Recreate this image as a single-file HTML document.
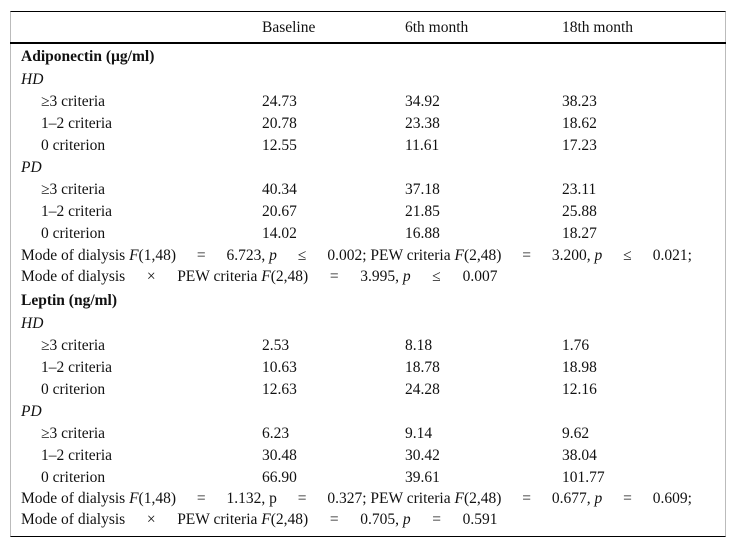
<!DOCTYPE html>
<html><head><meta charset="utf-8"><style>
body{margin:0;width:736px;height:547px;background:#fff;font-family:"Liberation Serif",serif;font-size:15.5px;color:#111;position:relative;overflow:hidden}
.frame{position:absolute;left:10px;top:11px;width:714px;height:524px;border-left:1px solid #bbb;border-right:1px solid #bbb;border-top:1px solid #000;border-bottom:1px solid #000}
.hl{position:absolute;left:10px;width:716px;height:2px;top:42px;background:#000}
.t{position:absolute;white-space:pre;line-height:18px;transform:translateY(-8px)}
b{font-weight:bold}
.s{display:inline-block;width:50.5px;text-align:center}
.w{display:inline-block;width:52px;text-align:center}
</style></head><body>
<div class="frame"></div>
<div class="hl"></div>
<div id="c"></div>
<script>
const rows=[
[27,null,"","Baseline","6th month","18th month"],
[56,"h","Adiponectin (µg/ml)"],
[79,"i","HD"],
[101,"r","≥3 criteria","24.73","34.92","38.23"],
[123,"r","1–2 criteria","20.78","23.38","18.62"],
[145,"r","0 criterion","12.55","11.61","17.23"],
[167,"i","PD"],
[189,"r","≥3 criteria","40.34","37.18","23.11"],
[211,"r","1–2 criteria","20.67","21.85","25.88"],
[233,"r","0 criterion","14.02","16.88","18.27"],
[300,"h","Leptin (ng/ml)"],
[323,"i","HD"],
[345,"r","≥3 criteria","2.53","8.18","1.76"],
[367,"r","1–2 criteria","10.63","18.78","18.98"],
[389,"r","0 criterion","12.63","24.28","12.16"],
[411,"i","PD"],
[433,"r","≥3 criteria","6.23","9.14","9.62"],
[455,"r","1–2 criteria","30.48","30.42","38.04"],
[477,"r","0 criterion","66.90","39.61","101.77"]];
const c=document.getElementById('c');
function add(x,y,html,name){const d=document.createElement('div');d.className='t';d.style.left=x+'px';d.style.top=y+'px';d.innerHTML=html;


c.appendChild(d);}
rows.forEach((r,k)=>{const y=r[0];
if(r[1]==='h')add(21,y,'<b>'+r[2]+'</b>','section-heading');
else if(r[1]==='i')add(21,y,'<i>'+r[2]+'</i>','group-label');
else{ if(r[2])add(r[1]==='r'?41:21,y,r[2],'row-label');
 add(262,y,r[3],'cell-baseline');add(405,y,r[4],'cell-6th-month');add(562,y,r[5],'cell-18th-month');}
});
const S=t=>'<span class="s">'+t+'</span>';
const W=t=>'<span class="w">'+t+'</span>';
add(21,255,'Mode of dialysis <i>F</i>(1,48)'+S('=')+'6.723, <i>p</i>'+S('≤')+'0.002; PEW criteria <i>F</i>(2,48)'+S('=')+'3.200, <i>p</i>'+S('≤')+'0.021;','stats-line');
add(21,276,'Mode of dialysis'+W('×')+'PEW criteria <i>F</i>(2,48)'+W('=')+'3.995, <i>p</i>'+W('≤')+'0.007','stats-line');
add(21,498,'Mode of dialysis <i>F</i>(1,48)'+S('=')+'1.132, p'+S('=')+'0.327; PEW criteria <i>F</i>(2,48)'+S('=')+'0.677, <i>p</i>'+S('=')+'0.609;','stats-line');
add(21,519,'Mode of dialysis'+W('×')+'PEW criteria <i>F</i>(2,48)'+W('=')+'0.705, <i>p</i>'+W('=')+'0.591','stats-line');
</script>
</body></html>
